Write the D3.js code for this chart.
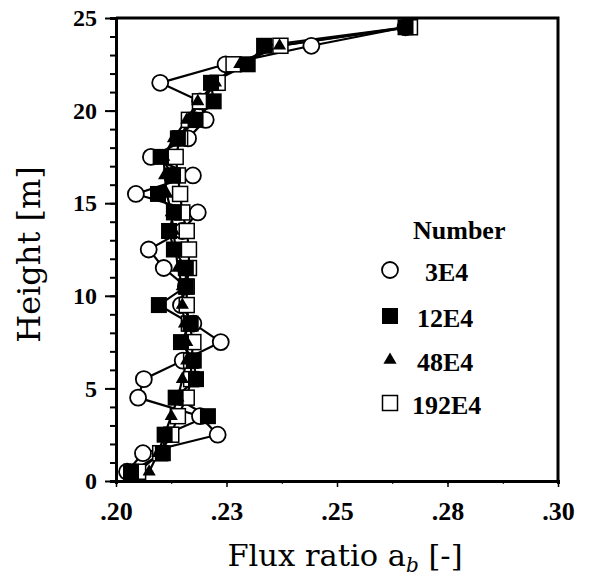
<!DOCTYPE html>
<html>
<head>
<meta charset="utf-8">
<script src="https://cdn.jsdelivr.net/npm/d3@7"></script>
<style>
  html, body { margin: 0; padding: 0; background: #fff; }
  svg { display: block; }
</style>
</head>
<body>
<svg id="chart" width="597" height="576"></svg>
<script>
// Heights of the sampling levels [m]
const heights = [0.5, 1.5, 2.5, 3.5, 4.5, 5.5, 6.5, 7.5, 8.5, 9.5, 10.5, 11.5, 12.5,
                 13.5, 14.5, 15.5, 16.5, 17.5, 18.5, 19.5, 20.5, 21.5, 22.5, 23.5, 24.5];

// Flux ratio a_b for each particle number
const n3E4 = [0.2025, 0.2061, 0.2230, 0.2190, 0.2050, 0.2063, 0.2151, 0.2237, 0.2175, 0.2147,
              0.2158, 0.2108, 0.2074, 0.2150, 0.2185, 0.2045, 0.2174, 0.2079, 0.2163, 0.2203,
              0.2190, 0.2100, 0.2248, 0.2442, 0.2655];
const n12E4 = [0.2034, 0.2106, 0.2110, 0.2208, 0.2135, 0.2181, 0.2176, 0.2147, 0.2169, 0.2097,
               0.2158, 0.2158, 0.2131, 0.2120, 0.2131, 0.2095, 0.2129, 0.2101, 0.2140, 0.2180,
               0.2221, 0.2215, 0.2298, 0.2335, 0.2655];
const n48E4 = [0.2075, 0.2095, 0.2110, 0.2125, 0.2140, 0.2150, 0.2160, 0.2160, 0.2155, 0.2150,
               0.2150, 0.2140, 0.2135, 0.2130, 0.2125, 0.2115, 0.2110, 0.2108, 0.2130, 0.2160,
               0.2185, 0.2225, 0.2280, 0.2370, 0.2655];
const n192E4 = [0.2050, 0.2100, 0.2125, 0.2140, 0.2160, 0.2170, 0.2170, 0.2175, 0.2165, 0.2160,
                0.2160, 0.2165, 0.2165, 0.2160, 0.2150, 0.2145, 0.2140, 0.2135, 0.2145, 0.2165,
                0.2190, 0.2230, 0.2266, 0.2372, 0.2665];

const seriesNames = ["3E4", "12E4", "48E4", "192E4"];
const seriesShapes = ["circle", "filledSquare", "triangle", "openSquare"];

const xTicks = [0.2, 0.225, 0.25, 0.275, 0.3];
const xTickLabels = [".20", ".23", ".25", ".28", ".30"];
const yTicks = [0, 5, 10, 15, 20, 25];

const svg = d3.select("#chart");
const plotLeft = 116, plotRight = 558, plotTop = 18, plotBottom = 481;

const x = d3.scaleLinear().domain([0.2, 0.3]).range([plotLeft, plotRight]);
const y = d3.scaleLinear().domain([0, 25]).range([plotBottom, plotTop]);

const tickFont = "'Liberation Serif', 'Times New Roman', serif";

// Frame (top and right edges)
svg.append("path")
  .attr("d", `M${plotLeft},${plotTop}H${plotRight}V${plotBottom}`)
  .attr("fill", "none").attr("stroke", "#000").attr("stroke-width", 3);

// Y axis: major ticks every 5 m, minor every 1 m
const yAxis = svg.append("g").attr("transform", `translate(${plotLeft},0)`);
yAxis.call(d3.axisLeft(y).tickValues(d3.range(0, 26, 1)).tickSize(6).tickFormat(""));
yAxis.selectAll(".tick line").attr("stroke-width", 2);
yAxis.select(".domain").attr("stroke-width", 3);
const yMajor = svg.append("g").attr("transform", `translate(${plotLeft},0)`)
  .call(d3.axisLeft(y).tickValues(yTicks).tickSize(11).tickPadding(8).tickFormat(d3.format("d")));
yMajor.selectAll(".tick line").attr("stroke-width", 2);
yMajor.selectAll(".tick text")
  .attr("font-family", tickFont).attr("font-weight", "bold").attr("font-size", 24).attr("fill", "#000");
yMajor.select(".domain").remove();

// X axis: labelled ticks plus half-step minor ticks
const xAxis = svg.append("g").attr("transform", `translate(0,${plotBottom})`);
xAxis.call(d3.axisBottom(x).tickValues(d3.range(0.2, 0.30001, 0.0125)).tickSize(3).tickFormat(""));
xAxis.select(".domain").attr("stroke-width", 3);
const xMajor = svg.append("g").attr("transform", `translate(0,${plotBottom})`)
  .call(d3.axisBottom(x).tickValues(xTicks).tickSize(6).tickPadding(15)
        .tickFormat((d, i) => xTickLabels[i]));
xMajor.select(".domain").remove();
xMajor.selectAll(".tick line").attr("stroke-width", 1.5);
xMajor.selectAll(".tick text")
  .attr("font-family", tickFont).attr("font-weight", "bold").attr("font-size", 26).attr("fill", "#000");

// Axis titles
svg.append("text")
  .attr("transform", `translate(40,${(plotTop + plotBottom) / 2 + 5}) rotate(-90)`)
  .attr("text-anchor", "middle")
  .attr("font-family", "'DejaVu Serif', serif").attr("font-size", 32)
  .text("Height [m]");

const xt = svg.append("text")
  .attr("x", (plotLeft + plotRight) / 2 + 8).attr("y", 566)
  .attr("text-anchor", "middle")
  .attr("font-family", "'DejaVu Serif', serif").attr("font-size", 30.5);
xt.append("tspan").text("Flux ratio a");
xt.append("tspan").attr("font-size", 20).attr("font-style", "italic").attr("dy", 6).text("b");
xt.append("tspan").attr("dy", -6).text(" [-]");

// Series lines
const allSeries = [n3E4, n12E4, n48E4, n192E4];
const line = d3.line().x(d => x(d[0])).y(d => y(d[1]));
allSeries.forEach(vals => {
  svg.append("path")
    .datum(vals.map((v, i) => [v, heights[i]]))
    .attr("d", line)
    .attr("fill", "none").attr("stroke", "#000").attr("stroke-width", 2.2);
});

// Marker drawing
function drawMarker(g, shape, cx, cy) {
  if (shape === "circle") {
    g.append("circle").attr("cx", cx).attr("cy", cy).attr("r", 8)
      .attr("fill", "#fff").attr("stroke", "#000").attr("stroke-width", 1.8);
  } else if (shape === "filledSquare") {
    g.append("rect").attr("x", cx - 8).attr("y", cy - 8).attr("width", 16).attr("height", 16)
      .attr("fill", "#000");
  } else if (shape === "triangle") {
    g.append("path").attr("d", d3.symbol(d3.symbolTriangle, 75)())
      .attr("transform", `translate(${cx},${cy})`).attr("fill", "#000");
  } else {
    g.append("rect").attr("x", cx - 7.5).attr("y", cy - 7.5).attr("width", 15).attr("height", 15)
      .attr("fill", "#fff").attr("stroke", "#000").attr("stroke-width", 1.5);
  }
}

const markerOrder = [0, 3, 1, 2];
markerOrder.forEach(si => {
  const g = svg.append("g");
  allSeries[si].forEach((v, i) => drawMarker(g, seriesShapes[si], x(v), y(heights[i])));
});

// Legend
const legend = svg.append("g");
legend.append("text").attr("x", 413).attr("y", 239)
  .attr("font-family", tickFont).attr("font-weight", "bold").attr("font-size", 26)
  .text("Number");
const legendRows = [273, 319, 363, 406];
const legendTextX = [425, 417, 417, 412];
seriesNames.forEach((name, i) => {
  const lg = legend.append("g");
  drawMarker(lg, seriesShapes[i], 390, legendRows[i] - 3);
  legend.append("text").attr("x", legendTextX[i]).attr("y", legendRows[i] + 8)
    .attr("font-family", tickFont).attr("font-weight", "bold").attr("font-size", 26)
    .text(name);
});
</script>
</body>
</html>
